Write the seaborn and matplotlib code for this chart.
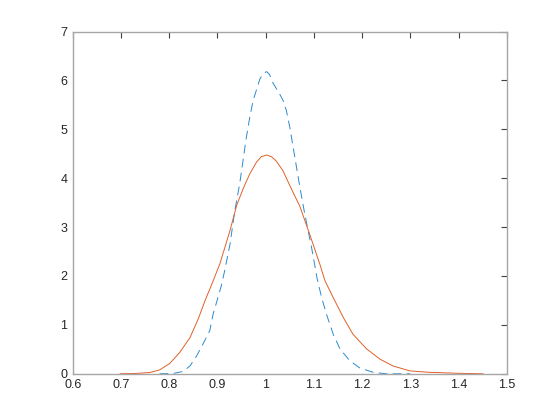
import matplotlib
matplotlib.use("Agg")
import matplotlib.pyplot as plt
import seaborn as sns
import pandas as pd
from matplotlib.ticker import FormatStrFormatter

# density curves
x_solid = [0.698, 0.730, 0.760, 0.780, 0.801, 0.822, 0.843, 0.860, 0.874, 0.891, 0.905, 0.926,
           0.940, 0.953, 0.967, 0.981, 0.991, 1.002, 1.012, 1.022, 1.036, 1.050, 1.071, 1.091,
           1.112, 1.123, 1.140, 1.161, 1.181, 1.209, 1.237, 1.264, 1.299, 1.340, 1.400, 1.451]
y_solid = [0.0, 0.006, 0.027, 0.08, 0.21, 0.44, 0.74, 1.12, 1.49, 1.90, 2.25, 2.93,
           3.45, 3.78, 4.09, 4.33, 4.44, 4.475, 4.44, 4.35, 4.15, 3.85, 3.42, 2.86,
           2.25, 1.90, 1.56, 1.15, 0.81, 0.51, 0.30, 0.16, 0.06, 0.03, 0.01, 0.0]

x_dash = [0.780, 0.808, 0.829, 0.843, 0.857, 0.870, 0.884, 0.891, 0.901, 0.908, 0.915, 0.926,
          0.936, 0.946, 0.953, 0.960, 0.967, 0.974, 0.988, 0.995, 1.002, 1.008, 1.015, 1.029,
          1.036, 1.043, 1.050, 1.057, 1.064, 1.071, 1.081, 1.095, 1.107, 1.116, 1.126, 1.140,
          1.154, 1.174, 1.195, 1.223, 1.250, 1.300]
y_dash = [0.0, 0.006, 0.05, 0.16, 0.37, 0.61, 0.88, 1.22, 1.56, 1.80, 2.11, 2.65,
          3.34, 3.88, 4.36, 4.84, 5.25, 5.59, 6.03, 6.14, 6.18, 6.12, 5.95, 5.72,
          5.59, 5.38, 5.04, 4.63, 4.22, 3.81, 3.27, 2.59, 1.93, 1.56, 1.22, 0.81,
          0.51, 0.27, 0.12, 0.03, 0.0, 0.0]

sns.set_style("white")
plt.rcParams['font.family'] = ['Liberation Sans', 'DejaVu Sans']

fig = plt.figure(figsize=(5.6, 4.2), dpi=100)
ax = fig.add_axes([0.13, 0.11, 0.775, 0.815])

df_dash = pd.DataFrame({'x': x_dash, 'y': y_dash})
df_solid = pd.DataFrame({'x': x_solid, 'y': y_solid})
sns.lineplot(data=df_dash, x='x', y='y', ax=ax, color='#2a8ad0', lw=0.7,
             linestyle=(0, (9, 5.5)), sort=False)
sns.lineplot(data=df_solid, x='x', y='y', ax=ax, color='#e0602a', lw=0.7, sort=False)

ax.set_xlim(0.6, 1.5)
ax.set_ylim(0, 7)
ax.set_xticks([0.6, 0.7, 0.8, 0.9, 1.0, 1.1, 1.2, 1.3, 1.4, 1.5])
ax.set_yticks(range(8))
ax.xaxis.set_major_formatter(FormatStrFormatter('%g'))
ax.set_xlabel('')
ax.set_ylabel('')
for s in ax.spines.values():
    s.set_color('#a6a6a6')
    s.set_linewidth(1.0)
ax.tick_params(direction='in', length=4, width=0.8, color='#404040', labelsize=9,
               labelcolor='#262626', top=True, right=True, pad=4)

fig.savefig('out.png', dpi=100)
